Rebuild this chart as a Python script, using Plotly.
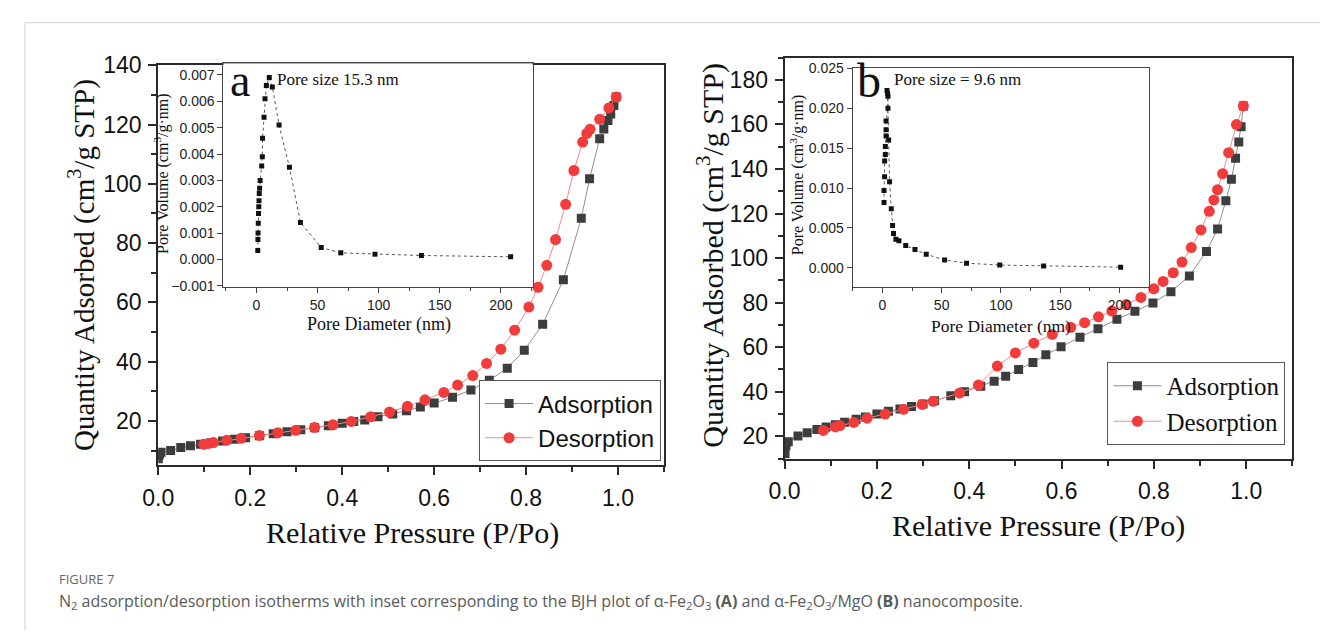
import plotly.graph_objects as go

W, H = 1320, 637
def fx(px): return px / W
def fy(py): return 1 - py / H

# ---------------- data ----------------
# Panel A : alpha-Fe2O3
a_ads_p = [0.0, 0.001, 0.003, 0.006, 0.027, 0.049, 0.07, 0.092, 0.115, 0.14, 0.165, 0.19, 0.22, 0.25, 0.28,
           0.31, 0.34, 0.37, 0.40, 0.425, 0.449, 0.478, 0.51, 0.54, 0.57, 0.60, 0.64, 0.68, 0.72, 0.759,
           0.796, 0.836, 0.881, 0.92, 0.938, 0.96, 0.969, 0.978, 0.984, 0.991, 0.996]
a_ads_v = [7.2, 8.2, 8.8, 9.4, 10.0, 11.0, 11.6, 12.1, 12.6, 13.2, 13.8, 14.3, 15.0, 15.7, 16.3,
           17.0, 17.7, 18.4, 19.2, 19.8, 20.3, 21.4, 22.3, 23.4, 24.7, 26.0, 28.0, 30.4, 33.7, 37.8,
           43.8, 52.6, 67.6, 88.4, 101.7, 115.2, 118.5, 121.4, 123.6, 126.4, 129.3]
a_des_p = [0.996, 0.98, 0.96, 0.939, 0.932, 0.923, 0.904, 0.886, 0.864, 0.845, 0.826, 0.806, 0.775, 0.745,
           0.714, 0.684, 0.651, 0.621, 0.58, 0.542, 0.503, 0.462, 0.42, 0.38, 0.34, 0.299, 0.26, 0.22,
           0.18, 0.149, 0.12, 0.11, 0.099]
a_des_v = [129.3, 125.6, 121.8, 118.4, 117.0, 114.1, 104.5, 93.1, 81.2, 72.5, 65.1, 58.4, 50.6, 44.2,
           39.4, 35.3, 32.1, 29.6, 27.1, 24.9, 23.0, 21.4, 19.8, 18.7, 17.8, 16.8, 16.0, 15.1,
           14.1, 13.5, 12.7, 12.4, 12.1]
# Inset A : BJH pore size distribution
a_bjh_d = [1.1, 1.2, 1.3, 1.5, 1.7, 1.9, 2.1, 2.3, 2.6, 3.0, 4.3, 4.8, 5.0, 6.2, 7.0, 8.1, 10.5, 13.0,
           18.5, 27, 36, 53, 69, 97, 135, 208]
a_bjh_v = [0.00034, 0.00076, 0.0010, 0.00137, 0.00174, 0.0020, 0.00223, 0.0025, 0.0027, 0.0030, 0.00355,
           0.0039, 0.0046, 0.0054, 0.0061, 0.0066, 0.0069, 0.00654, 0.0051, 0.0035, 0.0014, 0.00045,
           0.00025, 0.0002, 0.00015, 0.0001]

# Panel B : alpha-Fe2O3/MgO
b_ads_p = [0.001, 0.003, 0.008, 0.029, 0.049, 0.07, 0.09, 0.11, 0.13, 0.155, 0.175, 0.2, 0.225, 0.25,
           0.275, 0.3, 0.325, 0.36, 0.39, 0.425, 0.454, 0.479, 0.507, 0.538, 0.566, 0.599, 0.64, 0.679,
           0.72, 0.759, 0.798, 0.837, 0.877, 0.914, 0.938, 0.956, 0.968, 0.977, 0.984, 0.989, 0.994]
b_ads_v = [12.2, 15.8, 17.5, 20.1, 21.6, 23.0, 24.2, 25.2, 26.3, 27.6, 28.6, 30.0, 31.2, 32.3,
           33.4, 34.5, 35.9, 38.2, 40.0, 42.5, 44.7, 46.9, 50.0, 53.1, 56.6, 60.2, 64.5, 68.3,
           72.5, 76.1, 79.8, 84.9, 92.0, 103.0, 113.1, 125.7, 135.4, 144.8, 152.1, 158.9, 168.3]
b_des_p = [0.994, 0.979, 0.962, 0.949, 0.938, 0.93, 0.92, 0.902, 0.881, 0.861, 0.842, 0.82, 0.80, 0.772,
           0.74, 0.709, 0.68, 0.65, 0.62, 0.58, 0.54, 0.50, 0.461, 0.42, 0.379, 0.322, 0.298, 0.258,
           0.218, 0.179, 0.15, 0.12, 0.11, 0.084]
b_des_v = [168.3, 159.9, 147.3, 137.9, 130.7, 126.1, 121.0, 112.6, 104.7, 98.2, 93.4, 89.5, 86.2, 82.3,
           79.1, 76.2, 73.6, 71.0, 68.9, 65.7, 61.8, 57.4, 51.5, 43.0, 39.4, 35.7, 34.3, 32.1,
           30.0, 28.1, 26.2, 24.8, 24.2, 22.6]
# Inset B : BJH pore size distribution
b_bjh_d = [1.4, 1.4, 1.9, 1.9, 2.5, 2.5, 3.1, 3.1, 3.1, 4.7, 4.7, 3.9, 4.4, 5.3, 6.1, 7.5, 8.6, 9.4,
           11.4, 14, 19.7, 27.5, 37, 52.5, 71, 99, 136, 201]
b_bjh_v = [0.0082, 0.0097, 0.0114, 0.0134, 0.0142, 0.0152, 0.0165, 0.0173, 0.0184, 0.0200, 0.0215,
           0.0222, 0.0218, 0.0160, 0.0108, 0.0074, 0.0053, 0.0043, 0.0036, 0.0034, 0.0028, 0.0023,
           0.0017, 0.0010, 0.0006, 0.00036, 0.00024, 0.0001]

x_ticks = [0.0, 0.2, 0.4, 0.6, 0.8, 1.0]

# ---------------- styles ----------------
ADS_LINE = '#8f8f8f'
ADS_MARK = '#3d3d3d'
DES_LINE = '#f28a8a'
DES_MARK = '#f23b3b'
SANS = 'Liberation Sans, Arial, sans-serif'
SERIF = 'Liberation Serif, Times New Roman, serif'
CAP = 'Open Sans, Noto Sans, sans-serif'

fig = go.Figure()

def iso(p, v, name, xa, ya, kind, leg):
    if kind == 'ads':
        line = dict(color=ADS_LINE, width=1)
        marker = dict(symbol='square', size=9, color=ADS_MARK)
    else:
        line = dict(color=DES_LINE, width=1)
        marker = dict(symbol='circle', size=11, color=DES_MARK)
    fig.add_trace(go.Scatter(x=p, y=v, name=name, mode='lines+markers', xaxis=xa, yaxis=ya,
                             line=line, marker=marker, legend=leg, hoverinfo='skip'))

iso(a_ads_p, a_ads_v, 'Adsorption', 'x', 'y', 'ads', 'legend')
iso(a_des_p, a_des_v, 'Desorption', 'x', 'y', 'des', 'legend')
iso(b_ads_p, b_ads_v, 'Adsorption', 'x3', 'y3', 'ads', 'legend2')
iso(b_des_p, b_des_v, 'Desorption', 'x3', 'y3', 'des', 'legend2')

for d, v, xa, ya in [(a_bjh_d, a_bjh_v, 'x2', 'y2'), (b_bjh_d, b_bjh_v, 'x4', 'y4')]:
    fig.add_trace(go.Scatter(x=d, y=v, mode='lines+markers', xaxis=xa, yaxis=ya, showlegend=False,
                             line=dict(color='#555555', width=1, dash='dot'),
                             marker=dict(symbol='square', size=5, color='#111111'), hoverinfo='skip'))

def main_x(dom, anchor, lblsize):
    return dict(domain=dom, anchor=anchor, range=[0, 1.1], tickvals=x_ticks, tickformat='.1f',
                showline=True, mirror=True, linecolor='#2a2a2a', linewidth=2, ticks='outside',
                ticklen=8, tickwidth=2, tickcolor='#2a2a2a', showgrid=False, zeroline=False,
                minor=dict(dtick=0.1, tick0=0, ticks='outside', ticklen=5, tickwidth=1.5, tickcolor='#2a2a2a'),
                tickfont=dict(family=SANS, size=lblsize, color='#111'), ticklabelstandoff=3)

def main_y(dom, anchor, rng, lblsize):
    return dict(domain=dom, anchor=anchor, range=rng, dtick=20, tick0=0,
                showline=True, mirror=True, linecolor='#2a2a2a', linewidth=2, ticks='outside',
                ticklen=8, tickwidth=2, tickcolor='#2a2a2a', showgrid=False, zeroline=False,
                minor=dict(dtick=10, tick0=0, ticks='outside', ticklen=5, tickwidth=1.5, tickcolor='#2a2a2a'),
                tickfont=dict(family=SANS, size=lblsize, color='#111'), ticklabelstandoff=2)

def inset_x(dom, anchor, rng):
    return dict(domain=dom, anchor=anchor, range=rng, dtick=50, tick0=0,
                showline=True, mirror=True, linecolor='#444', linewidth=1.2, ticks='outside',
                ticklen=5, tickwidth=1, tickcolor='#444', showgrid=False, zeroline=False,
                minor=dict(dtick=25, tick0=0, ticks='outside', ticklen=3, tickcolor='#444'),
                tickfont=dict(family=SANS, size=14, color='#222'))

def inset_y(dom, anchor, rng, dt):
    return dict(domain=dom, anchor=anchor, range=rng, dtick=dt, tick0=0, tickformat='.3f',
                showline=True, mirror=True, linecolor='#444', linewidth=1.2, ticks='outside',
                ticklen=5, tickwidth=1, tickcolor='#444', showgrid=False, zeroline=False,
                tickfont=dict(family=SANS, size=14, color='#222'))

annotations = []
def txt(text, x, y, size, family=SERIF, angle=0, xanchor='center', yanchor='middle', color='#111'):
    annotations.append(dict(text=text, x=fx(x), y=fy(y), xref='paper', yref='paper', showarrow=False,
                            textangle=angle, xanchor=xanchor, yanchor=yanchor,
                            font=dict(family=family, size=size, color=color)))

# main titles
txt('Quantity Adsorbed (cm<sup>3</sup>/g STP)', 67, 260, 29, angle=-90)
txt('Relative Pressure (P/Po)', 401, 537, 30)
txt('Quantity Adsorbed (cm<sup>3</sup>/g STP)', 703, 250, 30, angle=-90)
txt('Relative Pressure (P/Po)', 1035, 530, 30)
# inset titles
txt('Pore Volume (cm<sup>3</sup>/g·nm)', 148, 166, 16, angle=-90)
txt('Pore Diameter (nm)', 367, 322, 18)
txt('Pore Volume (cm<sup>3</sup>/g·nm)', 791, 167, 16, angle=-90)
txt('Pore Diameter (nm)', 997, 323, 17.5)
txt('a', 227, 70, 46)
txt('Pore size 15.3 nm', 262, 69, 17, xanchor='left')
txt('b', 863, 70, 48)
txt('Pore size = 9.6 nm', 887, 69, 17, xanchor='left')
# caption
txt('FIGURE 7', 42, 584, 13, family=CAP, xanchor='left', color='#666')
txt('N<sub>2</sub> adsorption/desorption isotherms with inset corresponding to the BJH plot of '
    'α-Fe<sub>2</sub>O<sub>3</sub> <b>(A)</b> and α-Fe<sub>2</sub>O<sub>3</sub>/MgO <b>(B)</b> nanocomposite.',
    42, 608, 16, family=CAP, xanchor='left', color='#5a5a5a')

shapes = [
    dict(type='line', xref='paper', yref='paper', x0=fx(9), x1=1, y0=fy(10), y1=fy(10),
         line=dict(color='#d2d2d2', width=1)),
    dict(type='line', xref='paper', yref='paper', x0=fx(9), x1=fx(9), y0=fy(10), y1=0,
         line=dict(color='#d2d2d2', width=1)),
]

legend_common = dict(xanchor='right', yanchor='bottom', bordercolor='#555', borderwidth=1,
                     bgcolor='white', tracegroupgap=0, itemwidth=48)

fig.update_layout(
    width=W, height=H, margin=dict(l=0, r=0, t=0, b=0),
    paper_bgcolor='white', plot_bgcolor='white',
    xaxis=main_x([fx(144), fx(656)], 'y', 23),
    yaxis=main_y([fy(467), fy(54)], 'x', [5, 140], 23),
    xaxis2=inset_x([fx(210), fx(523)], 'y2', [-27, 226]),
    yaxis2=inset_y([fy(283), fy(52)], 'x2', [-0.00105, 0.00744], 0.001),
    xaxis3=main_x([fx(778), fx(1292)], 'y3', 23),
    yaxis3=main_y([fy(460), fy(46)], 'x3', [10, 190], 23),
    xaxis4=inset_x([fx(847), fx(1147)], 'y4', [-25, 225]),
    yaxis4=inset_y([fy(283), fy(57)], 'x4', [-0.0024, 0.0250], 0.005),
    legend=dict(x=fx(653), y=fy(463), font=dict(family=SANS, size=24, color='#111'), **legend_common),
    legend2=dict(x=fx(1285), y=fy(446), font=dict(family=SERIF, size=25, color='#111'), **legend_common),
    annotations=annotations, shapes=shapes,
)

fig.write_html('out.html', config={'displayModeBar': False},
               post_script="document.body.style.margin='0';document.body.style.overflow='hidden';")
